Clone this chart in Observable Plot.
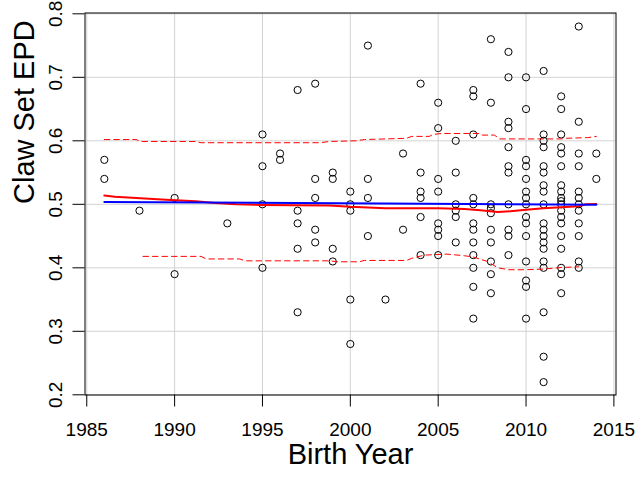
<!DOCTYPE html>
<html><head><meta charset="utf-8">
<script src="https://cdn.jsdelivr.net/npm/d3@7"></script>
<script src="https://cdn.jsdelivr.net/npm/@observablehq/plot@0.6"></script>
<style>html,body{margin:0;padding:0;background:#fff;}</style>
</head><body><div id="chart"></div>
<script>
// Birth years present in the data and the Claw Set EPD values observed for each
const years = [1986, 1988, 1990, 1993, 1995, 1996, 1997, 1998, 1999, 2000, 2001, 2002, 2003, 2004,
               2005, 2006, 2007, 2008, 2009, 2010, 2011, 2012, 2013, 2014];
const epdByYear = [
  [0.57, 0.54],
  [0.49],
  [0.51, 0.39],
  [0.47],
  [0.61, 0.56, 0.50, 0.40],
  [0.58, 0.57],
  [0.68, 0.49, 0.47, 0.43, 0.33],
  [0.69, 0.54, 0.51, 0.46, 0.44],
  [0.55, 0.54, 0.43, 0.41],
  [0.52, 0.50, 0.49, 0.35, 0.28],
  [0.75, 0.54, 0.51, 0.45],
  [0.35],
  [0.58, 0.46],
  [0.69, 0.55, 0.52, 0.51, 0.48, 0.42],
  [0.66, 0.62, 0.54, 0.52, 0.47, 0.46, 0.45, 0.42],
  [0.60, 0.55, 0.50, 0.49, 0.48, 0.44],
  [0.68, 0.67, 0.61, 0.51, 0.50, 0.47, 0.46, 0.44, 0.42, 0.40, 0.37, 0.32],
  [0.76, 0.66, 0.50, 0.494, 0.486, 0.46, 0.44, 0.41, 0.39, 0.36],
  [0.74, 0.70, 0.63, 0.62, 0.59, 0.56, 0.55, 0.50, 0.46, 0.45, 0.42],
  [0.70, 0.65, 0.57, 0.56, 0.54, 0.52, 0.51, 0.50, 0.48, 0.47, 0.45, 0.41, 0.38, 0.37, 0.32],
  [0.71, 0.61, 0.60, 0.59, 0.56, 0.55, 0.53, 0.52, 0.50, 0.47, 0.46, 0.45, 0.44, 0.43, 0.41, 0.40, 0.33, 0.26, 0.22],
  [0.67, 0.65, 0.61, 0.59, 0.58, 0.56, 0.53, 0.52, 0.51, 0.505, 0.50, 0.49, 0.48, 0.47, 0.45, 0.43, 0.40, 0.39, 0.36],
  [0.78, 0.63, 0.58, 0.56, 0.52, 0.51, 0.50, 0.49, 0.47, 0.45, 0.41, 0.40],
  [0.58, 0.54]
];

// Red solid smoother (median)
const medianYears = [1986, 1986.6, 1987.1, 1988.3, 1989.5, 1991.2, 1992.3, 1993.5, 1995, 1998.8, 2000, 2002,
                     2005, 2006.5, 2007.4, 2008.4, 2009.1, 2010, 2011, 2012, 2013, 2013.4, 2014];
const medianEPD = [0.514, 0.512, 0.511, 0.509, 0.507, 0.505, 0.502, 0.500, 0.499, 0.498, 0.496, 0.494,
                   0.494, 0.4926, 0.4905, 0.488, 0.489, 0.4916, 0.4937, 0.4955, 0.497, 0.500, 0.5005];
// Red dashed upper band
const upperYears = [1986, 1987.8, 1988.1, 1991.2, 1991.5, 1998.3, 1998.8, 2000.3, 2000.8, 2003.2, 2003.5,
                    2004.5, 2004.7, 2005.2, 2007.4, 2007.5, 2008.2, 2008.5, 2012, 2012.3, 2013.5, 2014];
const upperEPD = [0.602, 0.602, 0.599, 0.599, 0.597, 0.597, 0.599, 0.600, 0.602, 0.604, 0.607,
                  0.607, 0.610, 0.6116, 0.6116, 0.609, 0.609, 0.603, 0.603, 0.604, 0.605, 0.607];
// Red dashed lower band
const lowerYears = [1988.2, 1991.5, 1991.8, 1993.7, 1994, 1998.9, 1999.2, 2000.5, 2000.8, 2003.2, 2003.5,
                    2004.2, 2005.5, 2006.5, 2007, 2007.8, 2008.4, 2009, 2010, 2011, 2012, 2013];
const lowerEPD = [0.418, 0.418, 0.414, 0.414, 0.411, 0.411, 0.4095, 0.4095, 0.4116, 0.4116, 0.415,
                  0.420, 0.4216, 0.419, 0.417, 0.410, 0.400, 0.397, 0.397, 0.398, 0.4005, 0.4016];
// Blue linear fit
const fitYears = [1986, 2014];
const fitEPD = [0.5037, 0.4995];

const xTicks = [1985, 1990, 1995, 2000, 2005, 2010, 2015];
const yTicks = [0.2, 0.3, 0.4, 0.5, 0.6, 0.7, 0.8];
const xTitle = "Birth Year";
const yTitle = "Claw Set EPD";

const points = years.flatMap((yr, i) => epdByYear[i].map(v => ({year: yr, epd: v})));
const rows = (xs, ys) => xs.map((x, i) => ({year: x, epd: ys[i]}));

const chart = Plot.plot({
  width: 640, height: 480,
  marginLeft: 84.5, marginRight: 24.5, marginTop: 12.5, marginBottom: 85.5,
  style: {fontFamily: "'Liberation Sans', Arial, sans-serif", fontSize: "19px", background: "white", color: "black"},
  x: {domain: [1984.9, 2015.12]},
  y: {domain: [0.1997, 0.8013]},
  marks: [
    Plot.gridX(xTicks, {stroke: "#d3d3d3", strokeOpacity: 1, strokeWidth: 1}),
    Plot.gridY(yTicks, {stroke: "#d3d3d3", strokeOpacity: 1, strokeWidth: 1}),
    Plot.dot(points, {x: "year", y: "epd", r: 3.6, stroke: "black", fill: "none", strokeWidth: 1}),
    Plot.line(rows(upperYears, upperEPD), {x: "year", y: "epd", stroke: "red", strokeWidth: 1, strokeDasharray: "5.5,4"}),
    Plot.line(rows(lowerYears, lowerEPD), {x: "year", y: "epd", stroke: "red", strokeWidth: 1, strokeDasharray: "5.5,4"}),
    Plot.line(rows(medianYears, medianEPD), {x: "year", y: "epd", stroke: "red", strokeWidth: 2}),
    Plot.line(rows(fitYears, fitEPD), {x: "year", y: "epd", stroke: "blue", strokeWidth: 2}),
    Plot.frame({stroke: "black", strokeWidth: 1}),
    Plot.axisX({ticks: xTicks, tickSize: 12, tickPadding: 15, fontSize: 19, tickFormat: d => String(d), label: null}),
    Plot.axisY({ticks: yTicks, tickSize: 12, tickPadding: 10.8, tickRotate: -90, fontSize: 19, tickFormat: d => d.toFixed(1), label: null}),
    Plot.text([xTitle], {text: d => d, frameAnchor: "bottom", dy: 68.8, fontSize: 29, lineAnchor: "bottom"}),
    Plot.text([yTitle], {text: d => d, frameAnchor: "left", dx: -51.2, rotate: -90, fontSize: 29, lineAnchor: "bottom"})
  ]
});
document.getElementById("chart").appendChild(chart);
</script>
</body></html>
